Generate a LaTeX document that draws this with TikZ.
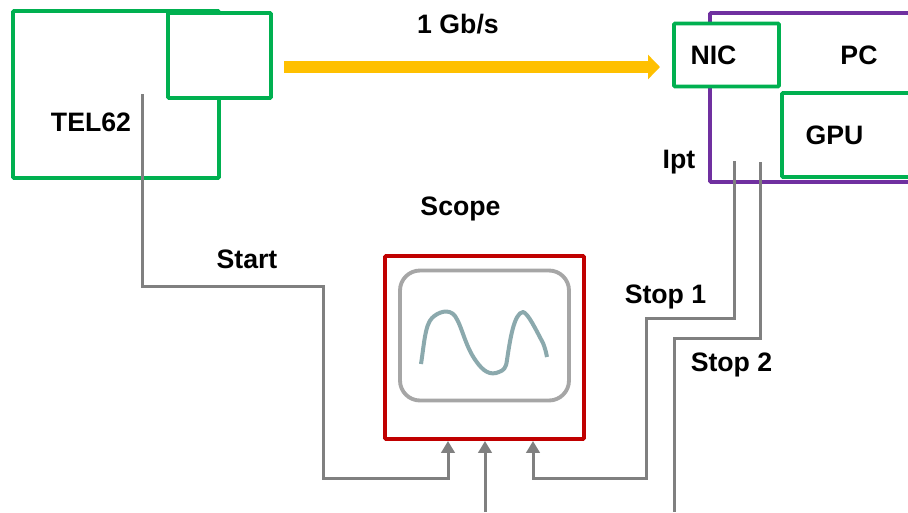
\documentclass[tikz,border=0pt]{standalone}
\usepackage{fontspec}
\setmainfont{Liberation Sans}
\usetikzlibrary{arrows.meta}
\definecolor{gbox}{HTML}{00B050}
\definecolor{pbox}{HTML}{7030A0}
\definecolor{rbox}{HTML}{C00000}
\definecolor{wire}{HTML}{808080}
\definecolor{screen}{HTML}{A6A6A6}
\definecolor{wave}{HTML}{8BA9AD}
\definecolor{link}{HTML}{FFC000}
\tikzset{
  x=0.75pt,y=-0.75pt,
  box/.style={draw,line width=2.9pt,fill=white,inner sep=0pt,rounded corners=0.8pt},
  lab/.style={font=\fontsize{20}{24}\selectfont\bfseries,anchor=base,inner sep=0pt},
  wireline/.style={draw=wire,line width=2.25pt},
  wiretip/.style={wireline,-{Triangle[length=9pt,width=10pt]}}
}
\begin{document}
\begin{tikzpicture}
\useasboundingbox (0,0) rectangle (908,512);
\clip (0,0) rectangle (908,512);
% boards
\node[box,draw=gbox,minimum width=154.5pt,minimum height=125.25pt] (tel) at (116,94.5) {};
\node[box,draw=gbox,minimum width=77.25pt,minimum height=63.75pt] (mezz) at (219.5,55.5) {};
\node[box,draw=pbox,minimum width=225pt,minimum height=126.75pt] (pc) at (860,97.5) {};
\node[box,draw=gbox,minimum width=78.75pt,minimum height=47.25pt] (nic) at (726.5,55) {};
\node[box,draw=gbox,minimum width=150pt,minimum height=63pt] (gpu) at (882,135) {};
% scope
\node[box,draw=rbox,minimum width=149.25pt,minimum height=137.25pt] (scope) at (484.5,347.5) {};
\node[box,draw=screen,rounded corners=15pt,minimum width=126.75pt,minimum height=97.5pt] (screen) at (484.5,335.5) {};
\draw[draw=wave,line width=3pt,line join=round]
  (421,364) .. controls (424,345) and (425,325) .. (432,318)
  .. controls (438,312) and (449,308) .. (455,316)
  .. controls (462,326) and (465,346) .. (476,361)
  .. controls (483,371) and (490,376) .. (499,372)
  .. controls (504,370) and (506,368) .. (507,360)
  .. controls (510,340) and (514,313) .. (523,312)
  .. controls (528,313) and (536,330) .. (543,343)
  .. controls (545,348) and (546,352) .. (547,357);
% fast link
\coordinate (linkstart) at (284,67);
\coordinate (linkend) at (660,67);
\draw[draw=link,line width=9pt,-{Triangle[length=9pt,width=18pt]}] (linkstart) -- (linkend);
% wires
\coordinate (startfrom) at (142,94);
\coordinate (startmid) at (323,286);
\coordinate (startin) at (448,478);
\coordinate (stopafrom) at (734,161);
\coordinate (stopamid) at (646,318);
\coordinate (stopain) at (533,478);
\coordinate (stopbfrom) at (760,162);
\coordinate (stopbmid) at (674,338);
\coordinate (stopbend) at (674,512);
\coordinate (midfrom) at (485,512);
\draw[wiretip] (startfrom) |- (startmid) |- (startin) -- (startin |- scope.south);
\draw[wiretip] (midfrom) -- (midfrom |- scope.south);
\draw[wiretip] (stopafrom) |- (stopamid) |- (stopain) -- (stopain |- scope.south);
\draw[wireline] (stopbfrom) |- (stopbmid) -- (stopbend);
% labels
\node[lab] (ltel) at (91,131) {TEL62};
\node[lab] (lrate) at (458,33) {1 Gb/s};
\node[lab] (lnic) at (713.5,64) {NIC};
\node[lab] (lpc) at (859,64) {PC};
\node[lab] (lgpu) at (834.5,144) {GPU};
\node[lab] (lipt) at (679,168) {Ipt};
\node[lab] (lscope) at (460.5,215) {Scope};
\node[lab] (lstart) at (247,268) {Start};
\node[lab] (lstopa) at (665.5,303) {Stop 1};
\node[lab] (lstopb) at (731.5,371) {Stop 2};
\end{tikzpicture}
\end{document}
